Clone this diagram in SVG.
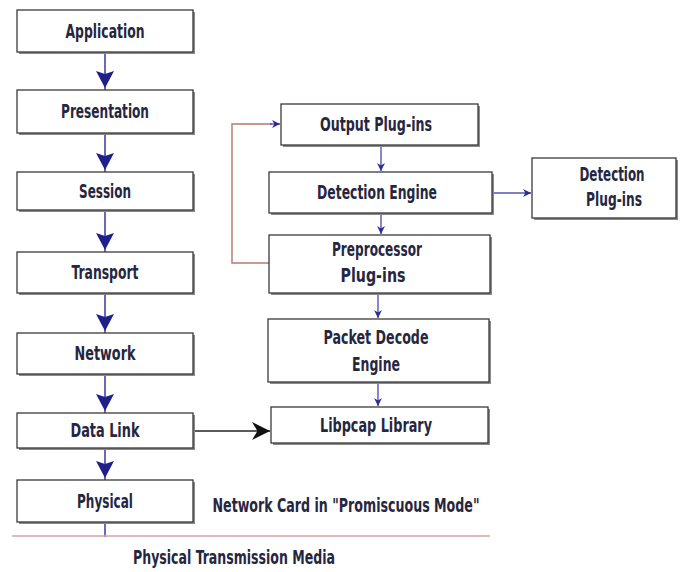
<svg xmlns="http://www.w3.org/2000/svg" width="680" height="572" viewBox="0 0 680 572">
<defs>
<style>
.box{fill:#fff;stroke:#3a3a3a;stroke-width:1.3}
.sh{fill:#8a8a8a}
.t{font-family:"DejaVu Sans Condensed","Liberation Sans",sans-serif;font-size:19px;font-weight:bold;fill:#262640;text-anchor:middle}
.bl{stroke:#6a6ab8;stroke-width:2;fill:none}
.bs{stroke:#5555b0;stroke-width:1.4;fill:none}
.ah{fill:#20208a}
</style>
<marker id="sm" viewBox="0 0 10 10" refX="10" refY="5" markerWidth="8" markerHeight="8" markerUnits="userSpaceOnUse" orient="auto">
<path d="M0,0 L10,5 L0,10 L3,5 Z" fill="#2a2a9a"/>
</marker>
<marker id="big" viewBox="0 0 10 10" refX="10" refY="5" markerWidth="19" markerHeight="18" markerUnits="userSpaceOnUse" orient="auto">
<path d="M0,0 L10,5 L0,10 L3,5 Z" fill="#111"/>
</marker>
</defs>
<rect width="680" height="572" fill="#fff"/>

<g id="connectors">
<line class="bl" x1="105" y1="52" x2="105" y2="90"/>
<path class="ah" d="M96,71 L105,74 L114,71 L105,88 Z"/>
<line class="bl" x1="105" y1="133" x2="105" y2="172"/>
<path class="ah" d="M96,153 L105,156 L114,153 L105,170 Z"/>
<line class="bl" x1="105" y1="210" x2="105" y2="252"/>
<path class="ah" d="M96,233 L105,236 L114,233 L105,250 Z"/>
<line class="bl" x1="105" y1="293" x2="105" y2="333"/>
<path class="ah" d="M96,314 L105,317 L114,314 L105,331 Z"/>
<line class="bl" x1="105" y1="374" x2="105" y2="413"/>
<path class="ah" d="M96,394 L105,397 L114,394 L105,411 Z"/>
<line class="bl" x1="105" y1="448" x2="105" y2="480"/>
<path class="ah" d="M96,461 L105,464 L114,461 L105,478 Z"/>
<line class="bl" x1="105" y1="522" x2="105" y2="537"/>
<line x1="12" y1="536" x2="490" y2="536" stroke="#d4a4a4" stroke-width="1.6"/>
<line x1="193" y1="431" x2="270" y2="431" stroke="#222" stroke-width="1.3" marker-end="url(#big)"/>
<line class="bs" x1="381" y1="145" x2="381" y2="171" marker-end="url(#sm)"/>
<line class="bs" x1="381" y1="213" x2="381" y2="234" marker-end="url(#sm)"/>
<line class="bs" x1="378" y1="293" x2="378" y2="318" marker-end="url(#sm)"/>
<line class="bs" x1="378" y1="382" x2="378" y2="406" marker-end="url(#sm)"/>
<line class="bs" x1="492" y1="193" x2="531" y2="193" marker-end="url(#sm)"/>
<polyline points="269,263 232,263 232,124 272,124" fill="none" stroke="#b87868" stroke-width="1.4"/>
<line x1="270" y1="124" x2="280" y2="124" stroke="#5555b0" stroke-width="1.4" marker-end="url(#sm)"/>
</g>

<g id="application"><rect class="sh" x="19" y="12" width="176" height="42"/><rect class="box" x="17" y="10" width="176" height="42"/><text class="t" x="105" y="38" textLength="79" lengthAdjust="spacingAndGlyphs">Application</text></g>
<g id="presentation"><rect class="sh" x="19" y="92" width="176" height="43"/><rect class="box" x="17" y="90" width="176" height="43"/><text class="t" x="105" y="118" textLength="88" lengthAdjust="spacingAndGlyphs">Presentation</text></g>
<g id="session"><rect class="sh" x="19" y="174" width="176" height="38"/><rect class="box" x="17" y="172" width="176" height="38"/><text class="t" x="105" y="198" textLength="52" lengthAdjust="spacingAndGlyphs">Session</text></g>
<g id="transport"><rect class="sh" x="19" y="254" width="176" height="41"/><rect class="box" x="17" y="252" width="176" height="41"/><text class="t" x="105" y="279" textLength="67" lengthAdjust="spacingAndGlyphs">Transport</text></g>
<g id="network"><rect class="sh" x="19" y="335" width="176" height="41"/><rect class="box" x="17" y="333" width="176" height="41"/><text class="t" x="105" y="360" textLength="61" lengthAdjust="spacingAndGlyphs">Network</text></g>
<g id="datalink"><rect class="sh" x="19" y="415" width="176" height="35"/><rect class="box" x="17" y="413" width="176" height="35"/><text class="t" x="105" y="437" textLength="69" lengthAdjust="spacingAndGlyphs">Data Link</text></g>
<g id="physical"><rect class="sh" x="19" y="482" width="176" height="42"/><rect class="box" x="17" y="480" width="176" height="42"/><text class="t" x="105" y="508" textLength="56" lengthAdjust="spacingAndGlyphs">Physical</text></g>

<g id="output"><rect class="sh" x="283" y="106" width="197" height="41"/><rect class="box" x="281" y="104" width="197" height="41"/><text class="t" x="376" y="131" textLength="112" lengthAdjust="spacingAndGlyphs">Output Plug-ins</text></g>
<g id="detengine"><rect class="sh" x="271" y="174" width="223" height="41"/><rect class="box" x="269" y="172" width="223" height="41"/><text class="t" x="377" y="199" textLength="120" lengthAdjust="spacingAndGlyphs">Detection Engine</text></g>
<g id="preproc"><rect class="sh" x="271" y="237" width="221" height="58"/><rect class="box" x="269" y="235" width="221" height="58"/><text class="t" x="377" y="256" textLength="90" lengthAdjust="spacingAndGlyphs">Preprocessor</text><text class="t" x="373" y="282" textLength="65" lengthAdjust="spacingAndGlyphs">Plug-ins</text></g>
<g id="decode"><rect class="sh" x="270" y="321" width="221" height="63"/><rect class="box" x="268" y="319" width="221" height="63"/><text class="t" x="376" y="344" textLength="105" lengthAdjust="spacingAndGlyphs">Packet Decode</text><text class="t" x="376" y="371" textLength="48" lengthAdjust="spacingAndGlyphs">Engine</text></g>
<g id="libpcap"><rect class="sh" x="273" y="409" width="217" height="36"/><rect class="box" x="271" y="407" width="217" height="36"/><text class="t" x="376" y="432" textLength="112" lengthAdjust="spacingAndGlyphs">Libpcap Library</text></g>
<g id="detplugins"><rect class="sh" x="534" y="160" width="144" height="60"/><rect class="box" x="532" y="158" width="144" height="60"/><text class="t" x="612" y="181" textLength="65" lengthAdjust="spacingAndGlyphs">Detection</text><text class="t" x="614" y="206" textLength="56" lengthAdjust="spacingAndGlyphs">Plug-ins</text></g>

<g id="labels">
<text class="t" x="346" y="512" textLength="267" lengthAdjust="spacingAndGlyphs">Network Card in "Promiscuous Mode"</text>
<text class="t" x="234" y="564" textLength="202" lengthAdjust="spacingAndGlyphs">Physical Transmission Media</text>
</g>
</svg>
